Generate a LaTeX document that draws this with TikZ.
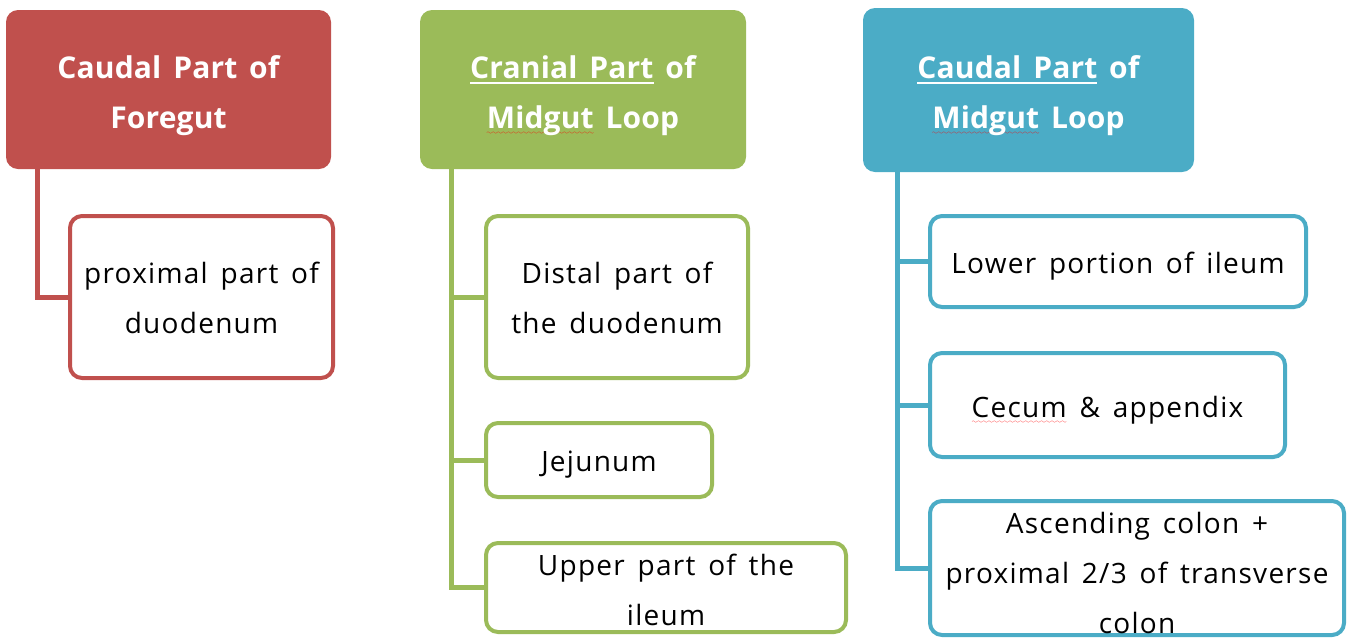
\documentclass[tikz,border=0pt]{standalone}
\usepackage{fontspec}
\setmainfont{Open Sans}[LetterSpace=4.5,WordSpace={1.5,1.2,1.2}]
\definecolor{cred}{HTML}{C0504D}
\definecolor{cgreen}{HTML}{9BBB59}
\definecolor{cblue}{HTML}{4BACC6}
\font\sqfont=lasy6
\newcommand\ulmark[1]{\setbox0\hbox{#1}\rlap{\rule[-5.5pt]{\wd0}{2.2pt}}#1}
\newcommand\spellmark[1]{\setbox0\hbox{#1}\rlap{\color{red}\lower6pt\hbox to\wd0{\xleaders\hbox{\sqfont\char58}\hfil}}#1}
\begin{document}
\begin{tikzpicture}[x=1pt,y=-1pt,
  head/.style={rounded corners=12pt, fill=#1, inner sep=0pt},
  headtxt/.style={text=white, align=center, inner sep=0pt,
    font=\fontsize{30}{50}\selectfont\bfseries\addfontfeatures{LetterSpace=0.5}},
  item/.style={rounded corners=12pt, draw=#1, fill=white, line width=4pt, inner sep=0pt},
  itemtxt/.style={align=center, inner sep=0pt, font=\fontsize{28}{50}\selectfont},
  conn/.style={draw=#1, line width=5pt}]
\useasboundingbox (0,0) rectangle (1352,638);
% headers
\node[head=cred, minimum width=325pt, minimum height=159pt] (rh) at (168.5,89.5) {};
\node[headtxt, yshift=-6pt] (rht) at (rh.center) {Caudal Part of\\Foregut};
\node[head=cgreen, minimum width=326pt, minimum height=159pt] (gh) at (583,89.5) {};
\node[headtxt, yshift=-6pt] (ght) at (gh.center) {\ulmark{Cranial Part} of\\\spellmark{Midgut} Loop};
\node[head=cblue, minimum width=331pt, minimum height=164pt] (bh) at (1028.5,90) {};
\node[headtxt, yshift=-6pt] (bht) at (bh.center) {\ulmark{Caudal Part} of\\\spellmark{Midgut} Loop};
% connector tops
\coordinate (rtop) at (37,169);
\coordinate (gtop) at (451,169);
\coordinate (btop) at (897,172);
% red
\node[item=cred, minimum width=263pt, minimum height=162pt] (rc1) at (201.5,297) {};
\node[itemtxt, yshift=-1pt] (rc1t) at (rc1.center) {proximal part of\\duodenum};
\draw[conn=cred] (rtop) |- (rc1.west);
% green
\node[item=cgreen, minimum width=262pt, minimum height=162pt] (gc1) at (617,297) {};
\node[itemtxt, yshift=-1pt] (gc1t) at (gc1.center) {Distal part of\\the duodenum};
\node[item=cgreen, minimum width=226pt, minimum height=74pt] (gc2) at (599,460) {};
\node[itemtxt, yshift=-5pt] (gc2t) at (gc2.center) {Jejunum};
\node[item=cgreen, minimum width=360pt, minimum height=89pt] (gc3) at (666,587.5) {};
\node[itemtxt, yshift=-2pt] (gc3t) at (gc3.center) {Upper part of the\\ileum};
\draw[conn=cgreen] (gtop) |- (gc3.west);
\draw[conn=cgreen] (gtop |- gc1.west) -- (gc1.west);
\draw[conn=cgreen] (gtop |- gc2.west) -- (gc2.west);
% blue
\node[item=cblue, minimum width=376pt, minimum height=91pt] (bc1) at (1118,261.5) {};
\node[itemtxt, yshift=-5pt] (bc1t) at (bc1.center) {Lower portion of ileum};
\node[item=cblue, minimum width=355pt, minimum height=104pt] (bc2) at (1107.5,405) {};
\node[itemtxt, yshift=-5pt] (bc2t) at (bc2.center) {\spellmark{Cecum} \& appendix};
\node[item=cblue, minimum width=414pt, minimum height=134pt] (bc3) at (1137,568) {};
\node[itemtxt, yshift=-5pt] (bc3t) at (bc3.center) {Ascending colon +\\proximal 2/3 of transverse\\colon};
\draw[conn=cblue] (btop) |- (bc3.west);
\draw[conn=cblue] (btop |- bc1.west) -- (bc1.west);
\draw[conn=cblue] (btop |- bc2.west) -- (bc2.west);
\end{tikzpicture}
\end{document}
